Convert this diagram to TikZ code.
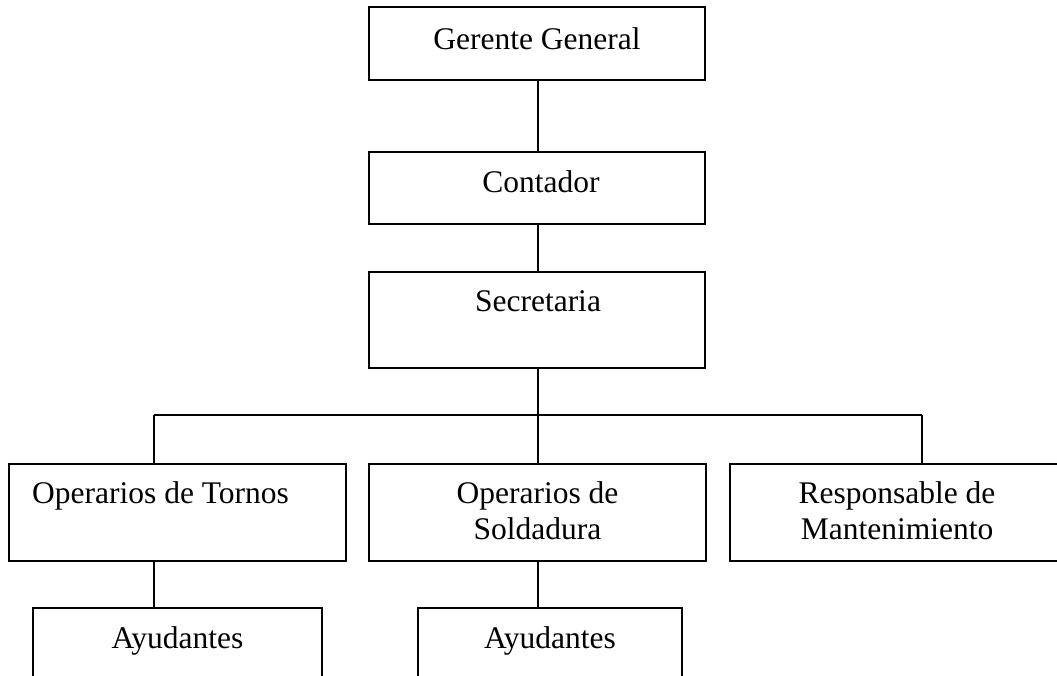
\documentclass[tikz,border=0pt]{standalone}
\usepackage{fontspec}
\setmainfont{Liberation Serif}
\usetikzlibrary{calc}
\begin{document}
\begin{tikzpicture}[x=1pt,y=-1pt,
  box/.style={draw, line width=1.8pt, rectangle, inner sep=0pt},
  lbl/.style={anchor=base, font=\fontsize{31.5}{36}\selectfont, align=center, inner sep=0pt},
  conn/.style={line width=1.8pt}]
\useasboundingbox (0,0) rectangle (1057,676);
\begin{scope}
\clip (0,0) rectangle (1057,676);
% top chain
\node[box, minimum width=336pt, minimum height=73pt] (gg) at (537,43.5) {};
\node[lbl] (ggt) at (537,50) {Gerente General};
\node[box, minimum width=336pt, minimum height=72pt] (cont) at (537,188) {};
\node[lbl] (contt) at (541,193) {Contador};
\node[box, minimum width=336pt, minimum height=96pt] (sec) at (537,320) {};
\node[lbl] (sect) at (538,312) {Secretaria};
% second level
\node[box, minimum width=337pt, minimum height=97pt] (tor) at (177.5,512.5) {};
\node[lbl, anchor=base west] (tort) at (32,503) {Operarios de Tornos};
\node[box, minimum width=337pt, minimum height=97pt] (sol) at (537.5,512.5) {};
\node[lbl] (solt) at (537.5,539) {Operarios de\\Soldadura};
\node[box, minimum width=334pt, minimum height=97pt] (resp) at (897,512.5) {};
\node[lbl] (respt) at (897,539) {Responsable de\\Mantenimiento};
% third level
\node[box, minimum width=289pt, minimum height=92pt] (ay1) at (177.5,654) {};
\node[lbl] (ay1t) at (177.5,648) {Ayudantes};
\node[box, minimum width=264pt, minimum height=92pt] (ay2) at (550,654) {};
\node[lbl] (ay2t) at (550,648) {Ayudantes};
% connectors
\coordinate (busL) at (154,415);
\coordinate (busM) at (538,415);
\coordinate (busR) at (922,415);
\draw[conn] (gg.south -| busM) -- (cont.north -| busM);
\draw[conn] (cont.south -| busM) -- (sec.north -| busM);
\draw[conn] (sec.south -| busM) -- (busM);
\draw[conn] (busL) -- (busR);
\draw[conn] (busL) -- (tor.north -| busL);
\draw[conn] (busM) -- (sol.north -| busM);
\draw[conn] (busR) -- (resp.north -| busR);
\draw[conn] (tor.south -| busL) -- (ay1.north -| busL);
\draw[conn] (sol.south -| busM) -- (ay2.north -| busM);
\end{scope}
\end{tikzpicture}
\end{document}
